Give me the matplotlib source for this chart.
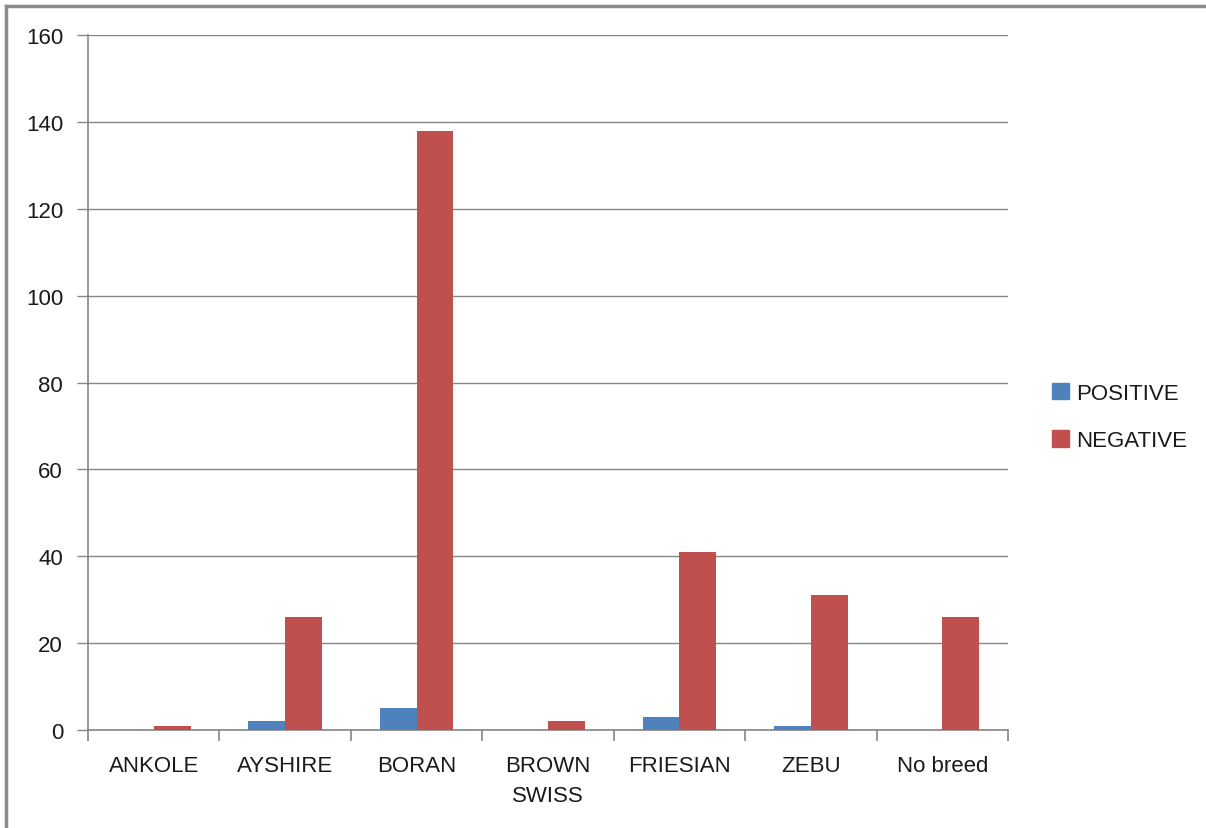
import numpy as np
import matplotlib.pyplot as plt
from matplotlib.lines import Line2D
from matplotlib.patches import Patch

plt.rcParams['font.family'] = ['Liberation Sans', 'DejaVu Sans']

breeds = ["ANKOLE", "AYSHIRE", "BORAN", "BROWN\nSWISS", "FRIESIAN", "ZEBU", "No breed"]
positive = [0, 2, 5, 0, 3, 1, 0]
negative = [1, 26, 138, 2, 41, 31, 26]

fig = plt.figure(figsize=(12.06, 8.29), dpi=100)
W, H = 1206, 829
ax = fig.add_axes([88 / W, 1 - 731 / H, (1008 - 88) / W, (731 - 36) / H])

x = np.arange(len(breeds))
w = 0.28
ax.bar(x - w / 2, positive, w, color="#4F81BD", label="POSITIVE", zorder=3)
ax.bar(x + w / 2, negative, w, color="#C0504D", label="NEGATIVE", zorder=3)

ax.set_xlim(-0.5, len(breeds) - 0.5)
ax.set_ylim(0, 160)
ax.set_yticks(np.arange(0, 161, 20))
ax.grid(axis="y", color="#868686", linewidth=1, zorder=0)

ax.set_xticks(x)
ax.set_xticklabels(breeds, fontsize=16, color="#1a1a1a", linespacing=1.55)
ax.tick_params(axis="x", length=0, pad=18)
ax.set_xticks(np.arange(-0.5, len(breeds), 1), minor=True)
ax.tick_params(axis="x", which="minor", length=8, color="#868686", width=1.2)
ax.tick_params(axis="y", labelsize=16, labelcolor="#1a1a1a", length=8,
               color="#868686", width=1, pad=10)

for s in ["top", "right"]:
    ax.spines[s].set_visible(False)
for s in ["left", "bottom"]:
    ax.spines[s].set_color("#868686")
    ax.spines[s].set_linewidth(1.2)

handles = [Patch(color="#4F81BD"), Patch(color="#C0504D")]
fig.legend(handles, ["POSITIVE", "NEGATIVE"], loc="center left",
           bbox_to_anchor=(1032 / W, 1 - 418 / H), frameon=False,
           fontsize=16, handlelength=0.75, handleheight=0.75,
           handletextpad=0.35, labelspacing=1.2, labelcolor="#1a1a1a")

fig.add_artist(Line2D([6 / W, 6 / W], [0, 1 - 7 / H], color="#8c8c8c",
                      linewidth=2.5, transform=fig.transFigure))
fig.add_artist(Line2D([6 / W, 1], [1 - 7 / H, 1 - 7 / H], color="#8c8c8c",
                      linewidth=2.5, transform=fig.transFigure))

fig.savefig("out.png", dpi=100)
